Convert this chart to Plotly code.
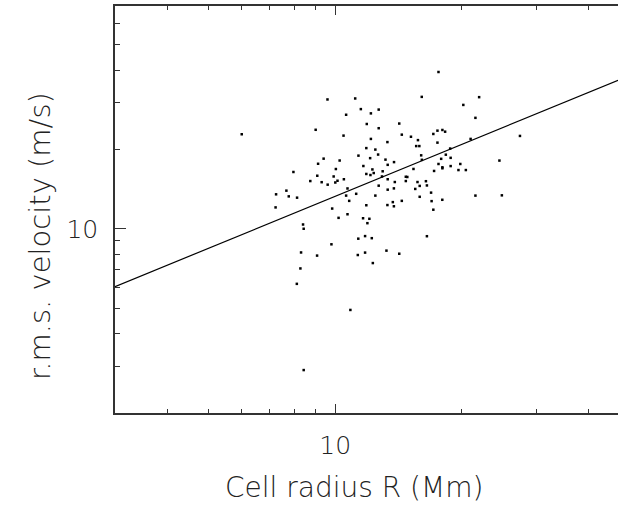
import numpy as np
import plotly.graph_objects as go

# Cell radius R (Mm)
radius = [17.60, 9.59, 11.16, 16.06, 21.98, 20.16, 21.54, 11.51, 12.16, 12.69,
          10.62, 11.89, 14.20, 12.69, 8.99, 6.00, 10.47, 12.16, 14.40, 15.14,
          17.11, 17.50, 17.98, 18.25, 20.98, 27.48, 15.73, 17.50, 13.31, 15.58,
          15.85, 11.86, 12.46, 12.65, 11.36, 12.11, 13.17, 13.80, 16.01, 16.07,
          18.76, 18.32, 18.81, 17.86, 17.60, 17.98, 17.98, 18.81, 19.83, 19.63,
          20.44, 17.18, 15.35, 24.56, 21.54, 24.89, 9.39, 9.11, 7.96, 10.25,
          10.04, 11.67, 12.26, 13.33, 12.97, 11.86, 12.13, 12.35, 9.07, 9.92,
          8.73, 9.29, 9.60, 10.01, 10.13, 10.49, 12.92, 13.33, 13.86, 14.72,
          14.84, 14.72, 15.69, 16.43, 15.88, 16.52, 15.50, 12.69, 13.33, 13.79,
          10.70, 11.22, 10.62, 10.80, 12.46, 15.88, 16.90, 16.95, 17.97, 14.40,
          13.31, 13.79, 13.71, 11.86, 17.11, 7.24, 7.66, 7.76, 8.12, 7.22,
          9.84, 10.19, 10.70, 11.65, 12.06, 11.93, 8.39, 8.42, 9.80, 11.35,
          11.78, 12.22, 16.52, 8.30, 9.06, 11.32, 11.78, 13.24, 14.20, 12.29,
          8.27, 8.11, 10.87, 8.42]

# r.m.s. velocity (m/s)
velocity = [39.33, 30.94, 31.21, 31.65, 31.57, 29.50, 26.35, 28.44, 27.40, 28.32,
            27.07, 24.97, 25.07, 24.07, 23.74, 22.83, 22.56, 21.92, 22.75, 22.34,
            22.89, 23.56, 23.70, 23.35, 21.92, 22.50, 21.69, 21.22, 21.32, 20.59,
            20.59, 20.23, 19.97, 19.12, 18.94, 18.53, 18.29, 17.90, 18.99, 18.26,
            20.15, 19.10, 18.58, 18.42, 17.61, 17.11, 16.96, 17.29, 17.61, 16.70,
            16.70, 16.57, 16.86, 18.14, 13.36, 13.39, 18.45, 17.64, 16.42, 18.15,
            16.85, 17.30, 16.79, 17.48, 16.52, 16.14, 15.99, 16.27, 15.89, 15.79,
            15.17, 15.02, 14.70, 14.98, 15.21, 15.41, 15.79, 15.41, 15.04, 15.75,
            15.72, 15.17, 15.04, 15.15, 14.54, 14.60, 14.16, 14.57, 14.07, 14.23,
            14.22, 13.57, 13.36, 12.76, 13.36, 13.22, 13.71, 12.73, 12.88, 12.76,
            12.30, 12.17, 12.62, 12.28, 11.81, 13.51, 13.95, 13.27, 13.12, 12.05,
            11.93, 11.00, 11.35, 10.96, 10.91, 10.50, 10.38, 10.00, 8.73, 9.17,
            9.38, 9.21, 9.37, 8.13, 7.91, 7.95, 8.12, 8.26, 8.04, 7.41,
            7.07, 6.18, 4.92, 2.91]

# power-law fit v = A * R^B
fit_A = 2.937
fit_B = 0.655
fit_R = [3.0, 47.0]

x_major = [10]
x_major_text = ["10"]
x_minor = [4, 5, 6, 7, 8, 9, 20, 30, 40]
y_major = [10]
y_major_text = ["10"]
y_minor = [3, 4, 5, 6, 7, 8, 9, 20, 30, 40, 50, 60]

x_title = "Cell radius R (Mm)"
y_title = "r.m.s. velocity (m/s)"

fit_v = [fit_A * r ** fit_B for r in fit_R]

FONT = "DejaVu Sans"
TXT = "#222222"
AX = "#333333"

fig = go.Figure()
fig.add_trace(go.Scatter(x=fit_R, y=fit_v, mode="lines",
                         line=dict(color="black", width=1.2),
                         showlegend=False, hoverinfo="skip"))
fig.add_trace(go.Scatter(x=radius, y=velocity, mode="markers",
                         marker=dict(color="black", size=2.5, symbol="square"),
                         showlegend=False))

fig.update_layout(
    width=618, height=506,
    margin=dict(l=115, r=0, t=6, b=93),
    paper_bgcolor="white", plot_bgcolor="white",
    font=dict(family=FONT, color=TXT, size=20, weight=200),
)
fig.update_xaxes(
    type="log", range=[np.log10(3.0), np.log10(3.0) + 503 / 421],
    showgrid=False, zeroline=False,
    showline=True, linecolor=AX, linewidth=1.5, mirror="ticks",
    ticks="inside", ticklen=9, tickwidth=1.2, tickcolor=AX,
    tickmode="array", tickvals=x_major, ticktext=x_major_text,
    tickfont=dict(family=FONT, size=25, color=TXT, weight=200),
    ticklabelstandoff=9,
    minor=dict(ticks="inside", ticklen=4, tickwidth=1, tickcolor=AX,
               tickmode="array", tickvals=x_minor, showgrid=False),
)
fig.update_yaxes(
    type="log", range=[np.log10(2.0), np.log10(70.0)],
    showgrid=False, zeroline=False,
    showline=True, linecolor=AX, linewidth=1.5, mirror=False,
    ticks="inside", ticklen=11, tickwidth=1.2, tickcolor=AX,
    tickmode="array", tickvals=y_major, ticktext=y_major_text,
    tickfont=dict(family=FONT, size=25, color=TXT, weight=200),
    ticklabelstandoff=10,
    minor=dict(ticks="inside", ticklen=5, tickwidth=1, tickcolor=AX,
               tickmode="array", tickvals=y_minor, showgrid=False),
)

# axis titles placed as annotations (paper coordinates relative to plot area)
fig.add_annotation(text=x_title, xref="paper", yref="paper",
                   x=(354 - 115) / 503, y=(413 - 487) / 407,
                   xanchor="center", yanchor="middle", showarrow=False,
                   font=dict(family=FONT, size=28, color=TXT, weight=200))
fig.add_annotation(text=y_title, xref="paper", yref="paper",
                   x=(40 - 115) / 503, y=(413 - 236) / 407,
                   xanchor="center", yanchor="middle", textangle=-90,
                   showarrow=False,
                   font=dict(family=FONT, size=29, color=TXT, weight=200))

fig.write_html("out.html")
